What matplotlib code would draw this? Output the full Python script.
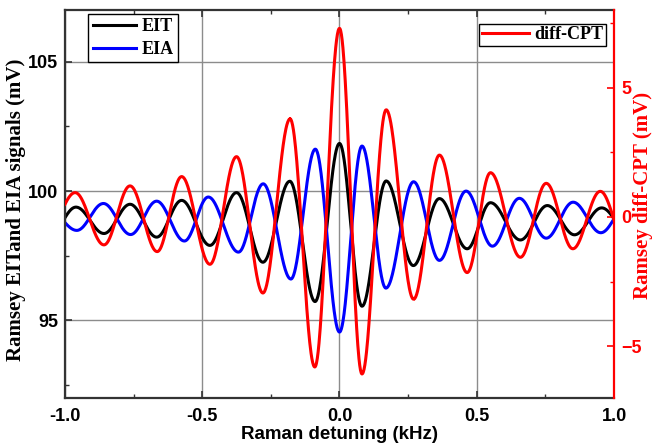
import matplotlib
matplotlib.use('Agg')
import matplotlib.pyplot as plt
import numpy as np

# Fringe extrema (detuning in kHz, signal in mV), ends included
eit_x = [-1.0, -0.960, -0.858, -0.763, -0.666, -0.575, -0.472, -0.375, -0.279, -0.181, -0.089,
         0.0, 0.082, 0.170, 0.269, 0.364, 0.465, 0.550, 0.659, 0.757, 0.856, 0.955, 1.0]
eit_y = [98.97, 99.38, 98.36, 99.49, 98.22, 99.64, 97.90, 99.94, 97.25, 100.38, 95.73,
         101.84, 95.55, 100.39, 97.12, 99.71, 97.77, 99.55, 98.11, 99.44, 98.31, 99.35, 98.93]

eia_x = [-1.0, -0.957, -0.860, -0.761, -0.666, -0.565, -0.478, -0.368, -0.278, -0.177, -0.088,
         0.0, 0.082, 0.169, 0.270, 0.364, 0.461, 0.557, 0.655, 0.753, 0.851, 0.952, 1.0]
eia_y = [98.78, 98.48, 99.52, 98.32, 99.61, 98.07, 99.77, 97.64, 100.28, 96.60, 101.62,
         94.55, 101.74, 96.25, 100.36, 97.32, 100.0, 97.87, 99.72, 98.18, 99.57, 98.39, 98.93]

cpt_x = [-1.0, -0.963, -0.858, -0.763, -0.664, -0.575, -0.472, -0.375, -0.279, -0.180, -0.090,
         0.0, 0.082, 0.170, 0.270, 0.364, 0.465, 0.550, 0.659, 0.753, 0.850, 0.950, 1.0]
cpt_y = [0.49, 0.94, -1.08, 1.20, -1.34, 1.56, -1.83, 2.33, -2.94, 3.79, -5.80,
         7.29, -6.07, 4.14, -3.18, 2.39, -2.15, 1.71, -1.56, 1.30, -1.23, 0.99, -0.11]

half_period = 0.095


def fringe(xs, ys, n=60):
    # cosine-shaped segments between neighbouring extrema
    xs = np.asarray(xs)
    ys = np.asarray(ys)
    out_x, out_y = [], []
    last = len(xs) - 2
    for i in range(len(xs) - 1):
        s = np.linspace(0, 1, n)
        if i == 0 or i == last:
            # edge piece: part of a cosine that starts at the extremum
            if i == 0:
                xe, ye, x0, y0 = xs[1], ys[1], xs[0], ys[0]
            else:
                xe, ye, x0, y0 = xs[i], ys[i], xs[i + 1], ys[i + 1]
            phi = np.pi * abs(x0 - xe) / half_period
            u = (1 - np.cos(phi * s)) / (1 - np.cos(phi))
            seg_x = xe + (x0 - xe) * s
            seg_y = ye + (y0 - ye) * u
            if i == 0:
                seg_x, seg_y = seg_x[::-1], seg_y[::-1]
        else:
            u = (1 - np.cos(np.pi * s)) / 2
            seg_x = xs[i] + (xs[i + 1] - xs[i]) * s
            seg_y = ys[i] + (ys[i + 1] - ys[i]) * u
        out_x.append(seg_x)
        out_y.append(seg_y)
    return np.concatenate(out_x), np.concatenate(out_y)


serif = 'Liberation Serif'
sans = 'Liberation Sans'
spine_col = '#333333'

fig = plt.figure(figsize=(6.53, 4.47), dpi=100)
ax = fig.add_axes([0.0995, 0.1096, 0.8408, 0.868])
ax2 = ax.twinx()

x, y = fringe(eit_x, eit_y)
l1, = ax.plot(x, y, color='black', linewidth=2.2, label='EIT')
x, y = fringe(eia_x, eia_y)
l2, = ax.plot(x, y, color='#0000ff', linewidth=2.2, label='EIA')
x, y = fringe(cpt_x, cpt_y)
l3, = ax2.plot(x, y, color='#ff0000', linewidth=2.2, label='diff-CPT')

ax.set_xlim(-1.0, 1.0)
ax.set_ylim(92.0, 107.0)
ax2.set_ylim(-7.0, 8.0)

ax.set_xticks([-1.0, -0.5, 0.0, 0.5, 1.0])
ax.set_xticks([-0.75, -0.25, 0.25, 0.75], minor=True)
ax.set_yticks([95, 100, 105])
ax.set_yticks([92.5, 97.5, 102.5], minor=True)
ax2.set_yticks([-5, 0, 5])
ax2.set_yticks([-2.5, 2.5, 7.5], minor=True)
ax.set_xticklabels(['-1.0', '-0.5', '0.0', '0.5', '1.0'])

ax.grid(True, which='major', color='#8c8c8c', linewidth=1.0)
ax.set_axisbelow(True)

ax.tick_params(which='both', direction='in', top=True, right=False, colors=spine_col,
               labelcolor='black')
ax.tick_params(which='major', length=5, width=1.2, pad=5)
ax.tick_params(which='minor', length=3, width=1.0)
ax.tick_params(axis='x', pad=7)
ax2.tick_params(which='both', direction='in', colors='#ff0000', labelcolor='#ff0000')
ax2.tick_params(which='major', length=5, width=1.2, pad=5)
ax2.tick_params(which='minor', length=3, width=1.0)

for lab in ax.get_xticklabels() + ax.get_yticklabels() + ax2.get_yticklabels():
    lab.set_fontfamily(sans)
    lab.set_fontweight('bold')
    lab.set_fontsize(13)

for side in ['left', 'bottom', 'top']:
    ax2.spines[side].set_visible(False)
    ax.spines[side].set_color(spine_col)
    ax.spines[side].set_linewidth(1.6)
ax.spines['right'].set_visible(False)
ax2.spines['right'].set_color('#ff0000')
ax2.spines['right'].set_linewidth(1.6)

ax.set_xlabel('Raman detuning (kHz)', fontfamily=sans, fontweight='bold', fontsize=13.5,
              labelpad=1)
ax.set_ylabel('Ramsey EITand EIA signals (mV)', fontfamily=serif, fontweight='bold',
              fontsize=15)
ax.yaxis.set_label_coords(-0.071, 0.4845)
ax2.set_ylabel('Ramsey diff-CPT (mV)', fontfamily=serif, fontweight='bold', fontsize=15,
               color='#ff0000')
ax2.yaxis.set_label_coords(1.035, 0.523)

leg_font = {'family': serif, 'weight': 'bold', 'size': 13}
leg1 = ax.legend(handles=[l1, l2], loc='upper left', bbox_to_anchor=(0.042, 0.99),
                 prop=leg_font, frameon=True, fancybox=False, edgecolor='black',
                 framealpha=1, handlelength=2.4, handletextpad=0.3, borderpad=0.25,
                 labelspacing=0.3, borderaxespad=0)
leg1.get_frame().set_linewidth(1.0)
leg2 = ax2.legend(handles=[l3], loc='upper right', bbox_to_anchor=(0.985, 0.965),
                  prop=leg_font, frameon=True, fancybox=False, edgecolor='black',
                  framealpha=1, handlelength=2.6, handletextpad=0.3, borderpad=0.15,
                  borderaxespad=0)
leg2.get_frame().set_linewidth(1.0)

fig.savefig('out.png', dpi=100)
